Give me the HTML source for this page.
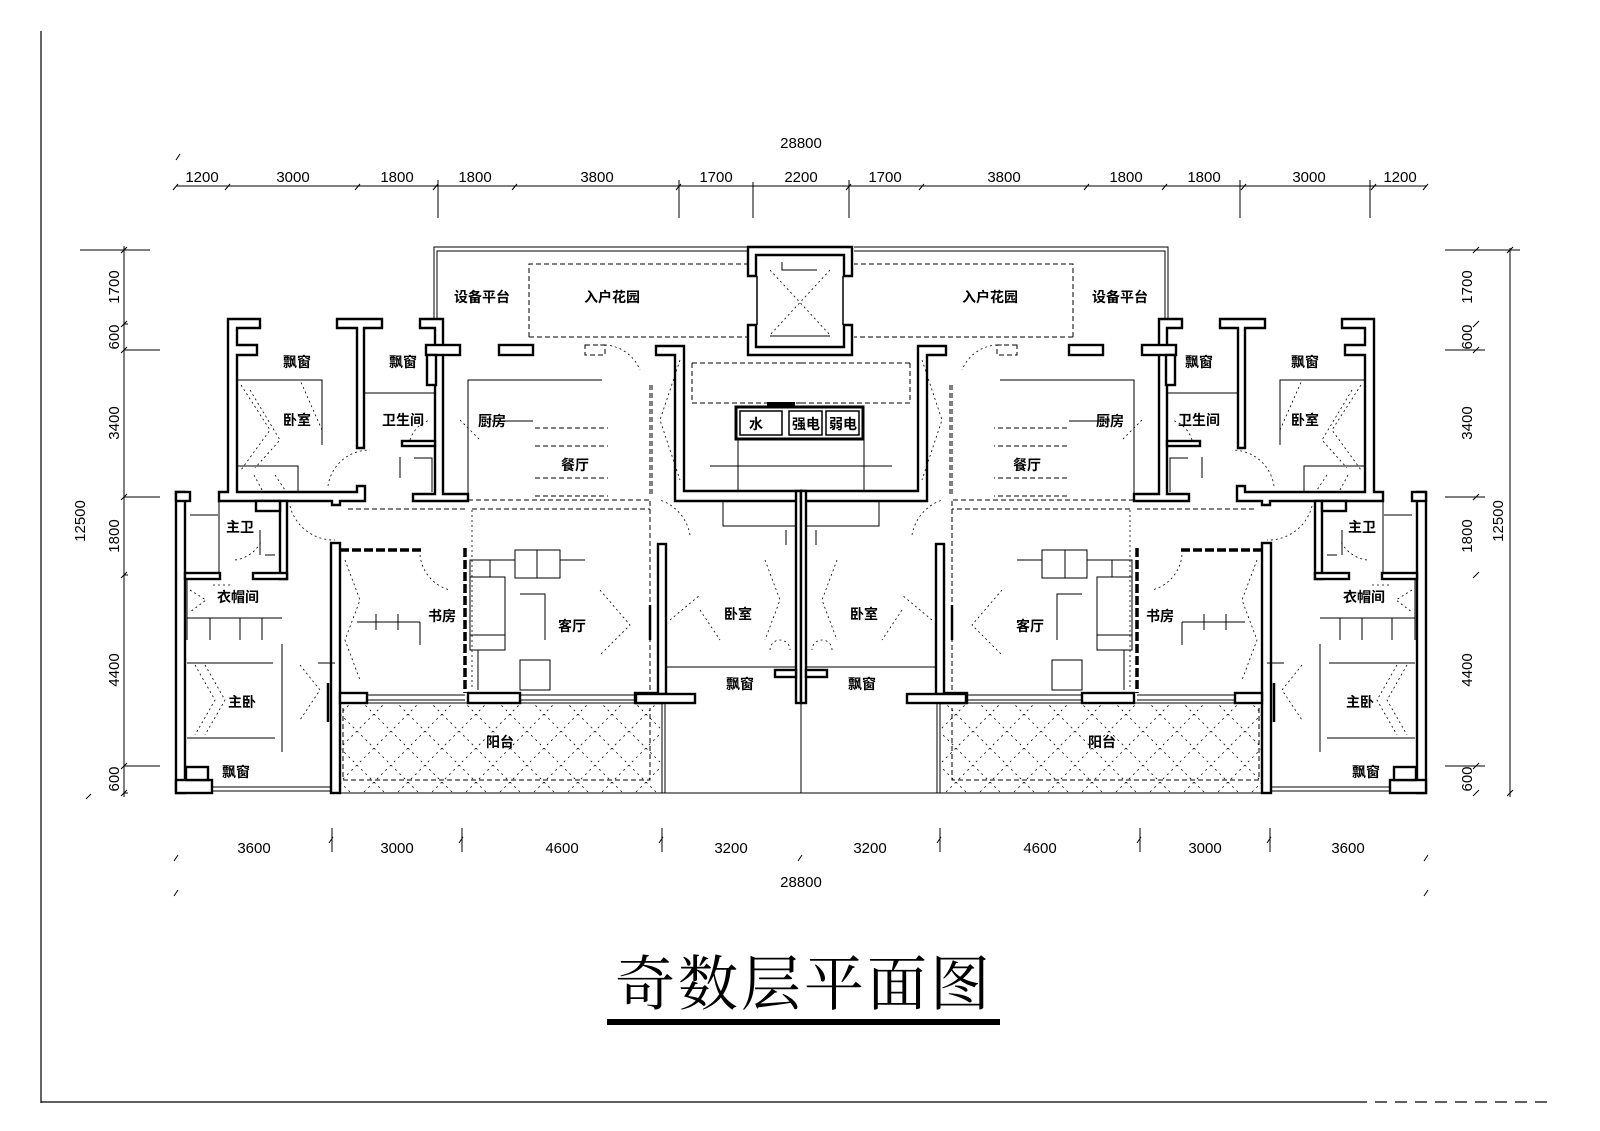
<!DOCTYPE html>
<html><head><meta charset="utf-8"><style>
html,body{margin:0;padding:0;background:#fff}
svg{display:block}
.w{fill:#fff;stroke:#000;stroke-width:2.4}
.t{fill:none;stroke:#000;stroke-width:1}
.d{fill:none;stroke:#000;stroke-width:1;stroke-dasharray:5 3}
.dt{fill:none;stroke:#000;stroke-width:0.8;stroke-dasharray:2 3}
.lb{font-family:"Liberation Sans","Noto Sans CJK SC",sans-serif;font-size:14px;font-weight:bold;text-anchor:middle;dominant-baseline:central}
.dm{font-family:"Liberation Sans",sans-serif;font-size:15px;text-anchor:middle}
</style></head><body>
<svg width="1600" height="1131" viewBox="0 0 1600 1131" xmlns="http://www.w3.org/2000/svg">
<defs>
<pattern id="hat" width="34" height="34" patternUnits="userSpaceOnUse">
<path d="M0 0L34 34M34 0L0 34" stroke="#000" stroke-width="0.8" stroke-dasharray="2 4" fill="none"/>
</pattern>
</defs>
<!-- frame -->
<line x1="41" y1="31" x2="41" y2="1103" stroke="#000" stroke-width="1.2"/>
<line x1="41" y1="1102" x2="1355" y2="1102" stroke="#000" stroke-width="1.2"/>
<line x1="1355" y1="1102" x2="1553" y2="1102" stroke="#000" stroke-width="1.2" stroke-dasharray="12 8"/>

<!-- top dims -->
<text class="dm" x="801" y="148">28800</text>
<line x1="176" y1="186" x2="1426" y2="186" class="t"/>
<g class="t">
<path d="M173 190l5-6M225 190l5-6M355 190l5-6M433 190l5-6M512 190l5-6M676 190l5-6M846 190l5-6M919 190l5-6M1084 190l5-6M1162 190l5-6M1241 190l5-6M1371 190l5-6M1423 190l5-6M176 160l4-6"/>
<path d="M438 180V218M679 180V218M753 182V218M849 180V218M1240 180V218M1370 180V218"/>
</g>
<g class="dm">
<text x="202" y="182">1200</text><text x="293" y="182">3000</text><text x="397" y="182">1800</text><text x="475" y="182">1800</text><text x="597" y="182">3800</text><text x="716" y="182">1700</text><text x="801" y="182">2200</text><text x="885" y="182">1700</text><text x="1004" y="182">3800</text><text x="1126" y="182">1800</text><text x="1204" y="182">1800</text><text x="1309" y="182">3000</text><text x="1400" y="182">1200</text>
</g>

<!-- bottom dims -->
<g class="t">
<path d="M332 828V852M462 828V852M662 828V852M940 828V852M1140 828V852M1270 828V852"/>
<path d="M174 861l4-6M329 843l4-6M459 843l4-6M659 843l4-6M798 861l4-6M937 843l4-6M1137 843l4-6M1267 843l4-6M1424 861l4-6M174 896l4-6M1424 896l4-6"/>
</g>
<g class="dm">
<text x="254" y="853">3600</text><text x="397" y="853">3000</text><text x="562" y="853">4600</text><text x="731" y="853">3200</text><text x="870" y="853">3200</text><text x="1040" y="853">4600</text><text x="1205" y="853">3000</text><text x="1348" y="853">3600</text>
<text x="801" y="887">28800</text>
</g>

<!-- left dims -->
<g class="t">
<line x1="124" y1="246" x2="124" y2="797"/>
<path d="M80 250H150M124 324H128M124 350H160M124 497H160M124 575H128M124 766H160M124 793H128"/>
<path d="M121 253l6-6M121 327l6-6M121 353l6-6M121 500l6-6M121 578l6-6M121 769l6-6M121 796l6-6M86 799l5-5"/>
<line x1="1510" y1="248" x2="1510" y2="797"/>
<path d="M1445 250H1520M1445 350H1485M1445 497H1485M1445 766H1485"/>
<path d="M1473 253l6-6M1473 327l6-6M1473 353l6-6M1473 500l6-6M1473 578l6-6M1473 769l6-6M1473 796l6-6M1507 253l6-6M1507 796l6-6"/>
</g>
<g class="dm">
<text transform="translate(119,287) rotate(-90)">1700</text>
<text transform="translate(119,337) rotate(-90)">600</text>
<text transform="translate(119,423) rotate(-90)">3400</text>
<text transform="translate(119,536) rotate(-90)">1800</text>
<text transform="translate(119,670) rotate(-90)">4400</text>
<text transform="translate(119,779) rotate(-90)">600</text>
<text transform="translate(85,521) rotate(-90)">12500</text>
<text transform="translate(1472,287) rotate(-90)">1700</text>
<text transform="translate(1472,337) rotate(-90)">600</text>
<text transform="translate(1472,423) rotate(-90)">3400</text>
<text transform="translate(1472,536) rotate(-90)">1800</text>
<text transform="translate(1472,670) rotate(-90)">4400</text>
<text transform="translate(1472,779) rotate(-90)">600</text>
<text transform="translate(1503,521) rotate(-90)">12500</text>
</g>

<!-- LEFT HALF -->
<g id="L">
<!-- equipment platform outline -->
<path class="t" d="M434 319V247H748M437 319V251H748"/>
<path class="d" d="M529 337V264H748M529 337H748"/>
<!-- upper bedroom block -->
<polygon class="w" points="228,319 260,319 260,328 237,328 237,345 257,345 257,355 237,355 237,492 357,492 357,486 365,486 365,501 340,501 340,505 332,505 332,501 219,501 219,492 228,492"/>
<polygon class="w" points="337,319 382,319 382,328 364,328 364,448 357,448 357,328 337,328"/>
<polygon class="w" points="420,319 443,319 443,494 468,494 468,501 413,501 413,494 435,494 435,328 420,328"/>
<rect class="w" x="426" y="345" width="34" height="10"/>
<rect class="w" x="427" y="355" width="9" height="30"/>
<rect class="w" x="402" y="441" width="33" height="5"/>
<rect class="w" x="499" y="345" width="34" height="10"/>
<rect class="d" x="585" y="345" width="20" height="10"/>
<path class="t" d="M237 380H322V445M364 393H435M237 466H298V492M468 495V380H602M492 421H533M400 457V478M414 458H432V492"/>
<path class="dt" d="M241 385L270 430L241 470M250 390L280 440L255 468M254 475L262 490M275 475L285 490M322 430L300 380"/>
<path class="d" d="M535 428H608M535 446H608M535 478H608M535 496H608M652 385V497M468 500H650"/>
<path class="dt" d="M328 486A42 42 0 0 1 370 450M410 440A30 30 0 0 1 430 420M600 345A40 40 0 0 1 640 370M460 420L480 440"/>
<!-- lower left block -->
<rect class="w" x="176" y="492" width="9" height="301"/>
<rect class="w" x="176" y="492" width="14" height="9"/>
<rect class="w" x="185" y="573" width="35" height="6"/>
<rect class="w" x="280" y="501" width="7" height="78"/>
<rect class="w" x="253" y="573" width="34" height="6"/>
<rect class="w" x="256" y="501" width="24" height="10"/>
<line class="t" x1="219" y1="501" x2="219" y2="573"/>
<rect class="w" x="176" y="780" width="36" height="13"/>
<rect class="w" x="186" y="767" width="22" height="13"/>
<path class="t" d="M212 787H330M212 791H330"/>
<rect class="w" x="331" y="543" width="9" height="250"/>
<rect class="w" x="340" y="693" width="27" height="10"/>
<path d="M340 550H422" stroke="#000" stroke-width="3.5" stroke-dasharray="9 3" fill="none"/>
<path d="M465 548V693" stroke="#000" stroke-width="3.5" stroke-dasharray="9 3" fill="none"/>
<rect class="w" x="468" y="693" width="52" height="10"/>
<rect class="w" x="635" y="693" width="27" height="10"/>
<path class="t" d="M367 695H465M367 700H465M520 695H635M520 700H635"/>
<!-- balcony -->
<rect x="340" y="703" width="322" height="90" fill="url(#hat)" stroke="#000" stroke-width="1"/>
<path class="d" d="M343 708V780H650V708"/>
<line class="t" x1="665" y1="703" x2="665" y2="793"/>
<!-- master bedroom / closet details -->
<path class="t" d="M187 580V640M187 618H282M210 618V640M240 618V640M262 618V640M187 663H273M187 738H275M282 644V752M190 515H218M260 530V555M265 555H275M318 663H335"/>
<path d="M328 683V722" stroke="#000" stroke-width="2.5"/>
<path class="dt" d="M190 590L206 600L190 612M195 665L215 700L195 735M205 665L225 700L205 735M300 665L320 690L300 720M230 585H210M235 560A35 35 0 0 0 262 540M290 506A45 45 0 0 0 335 540"/>
<!-- study -->
<path class="t" d="M357 622H420M376 614V630M398 614V630M420 622V645"/>
<path class="dt" d="M345 560L360 600L345 640L360 680M420 555A40 40 0 0 0 450 590"/>
<!-- living -->
<path class="t" d="M470 560H490V577H470ZM490 560H515M515 550H560V578H515ZM537 550V578M560 560H585M470 577H505V650H470ZM470 635H505M520 594H545V640M520 660H550V690H520ZM478 650V690"/>
<path class="dt" d="M600 590L630 625L600 655M472 510V690"/>
<path d="M650 605V640" stroke="#000" stroke-width="2.5"/>
<path class="d" d="M650 385V497M650 501V693M348 509H465M472 509H650"/>
<!-- center corridor -->
<polygon class="w" points="656,346 684,346 684,491 801,491 801,501 675,501 675,355 656,355"/>
<rect class="w" x="658" y="544" width="8" height="150"/>
<rect class="w" x="636" y="694" width="59" height="9"/>
<rect class="w" x="796" y="491" width="5" height="212"/>
<rect class="w" x="775" y="670" width="21" height="7"/>
<path class="t" d="M666 667H796M723 501V526H796M710 466H801M738 439V491M786 530V545"/>
<path class="dt" d="M680 360L660 420L680 480M690 535A45 45 0 0 0 660 500M700 610L720 640M670 620L700 595M765 560L780 600L765 640M770 650A10 10 0 0 1 790 650"/>
<path class="d" d="M692 363H801M692 403H801M692 363V403"/>
</g>
<use href="#L" transform="translate(1602,0) scale(-1,1)"/>

<!-- elevator -->
<polygon class="w" points="748,247 852,247 852,276 844,276 844,255 756,255 756,276 748,276"/>
<polygon class="w" points="748,325 756,325 756,347 844,347 844,325 852,325 852,355 748,355"/>
<path d="M757 276V325M843 276V325" stroke="#000" stroke-width="1.5"/>
<path class="dt" d="M770 270L830 335M830 270L770 335"/>
<path class="t" d="M782 262V270H817M770 336H830"/>
<!-- shafts -->
<rect x="736" y="407" width="127" height="32" fill="#fff" stroke="#000" stroke-width="3"/>
<rect x="740" y="411" width="42" height="24" fill="none" stroke="#000" stroke-width="1.5"/>
<rect x="789" y="411" width="33" height="24" fill="none" stroke="#000" stroke-width="1.5"/>
<rect x="826" y="411" width="33" height="24" fill="none" stroke="#000" stroke-width="1.5"/>
<rect x="767" y="402" width="28" height="6" fill="#000"/>
<line class="t" x1="801" y1="703" x2="801" y2="793"/>
<line class="t" x1="340" y1="793" x2="1262" y2="793"/>

<!-- labels -->
<g class="lb">
<text x="482" y="297">设备平台</text><text x="1120" y="297">设备平台</text>
<text x="612" y="297">入户花园</text><text x="990" y="297">入户花园</text>
<text x="297" y="362">飘窗</text><text x="1305" y="362">飘窗</text>
<text x="403" y="362">飘窗</text><text x="1199" y="362">飘窗</text>
<text x="297" y="420">卧室</text><text x="1305" y="420">卧室</text>
<text x="403" y="420">卫生间</text><text x="1199" y="420">卫生间</text>
<text x="492" y="421">厨房</text><text x="1110" y="421">厨房</text>
<text x="575" y="465">餐厅</text><text x="1027" y="465">餐厅</text>
<text x="240" y="527">主卫</text><text x="1362" y="527">主卫</text>
<text x="238" y="597">衣帽间</text><text x="1364" y="597">衣帽间</text>
<text x="442" y="616">书房</text><text x="1160" y="616">书房</text>
<text x="572" y="626">客厅</text><text x="1030" y="626">客厅</text>
<text x="242" y="702">主卧</text><text x="1360" y="702">主卧</text>
<text x="236" y="772">飘窗</text><text x="1366" y="772">飘窗</text>
<text x="500" y="742">阳台</text><text x="1102" y="742">阳台</text>
<text x="738" y="614">卧室</text><text x="864" y="614">卧室</text>
<text x="740" y="684">飘窗</text><text x="862" y="684">飘窗</text>
<text x="756" y="424">水</text><text x="806" y="424">强电</text><text x="843" y="424">弱电</text>
</g>

<!-- title -->
<text x="804" y="1005" style="font-family:'Noto Serif CJK SC','WenQuanYi Zen Hei',serif;font-size:60px;text-anchor:middle;letter-spacing:3px">奇数层平面图</text>
<rect x="607" y="1019" width="393" height="6" fill="#000"/>
</svg>
</body></html>
